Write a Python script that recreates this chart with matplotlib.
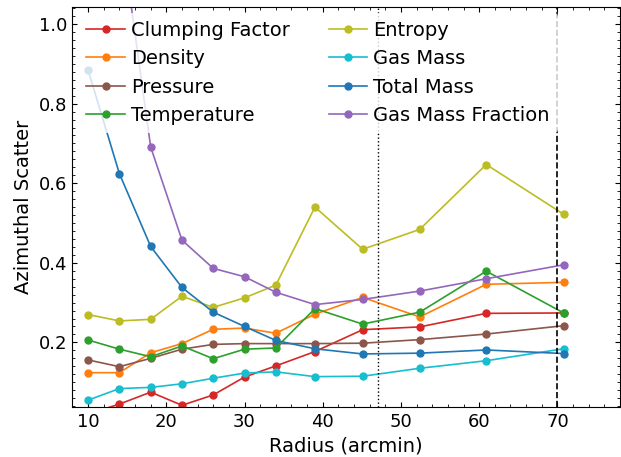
import matplotlib
matplotlib.use("Agg")
import matplotlib.pyplot as plt
from matplotlib.ticker import MultipleLocator

# Radial bins (arcmin)
radius = [10, 14, 18, 22, 26, 30, 34, 39, 45.1, 52.4, 60.9, 70.8]

clumping = [0.020, 0.045, 0.075, 0.042, 0.068, 0.113, 0.141, 0.177, 0.232, 0.239, 0.273, 0.274]
density = [0.124, 0.124, 0.174, 0.197, 0.233, 0.236, 0.223, 0.271, 0.313, 0.264, 0.346, 0.351]
pressure = [0.156, 0.139, 0.160, 0.183, 0.195, 0.197, 0.197, 0.197, 0.198, 0.207, 0.221, 0.242]
temperature = [0.206, 0.183, 0.164, 0.191, 0.159, 0.183, 0.186, 0.285, 0.246, 0.276, 0.379, 0.274]
entropy = [0.270, 0.254, 0.258, 0.316, 0.288, 0.312, 0.344, 0.540, 0.434, 0.484, 0.647, 0.522]
gas_mass = [0.055, 0.084, 0.087, 0.096, 0.110, 0.123, 0.126, 0.114, 0.115, 0.135, 0.154, 0.184]
total_mass = [0.884, 0.624, 0.441, 0.338, 0.276, 0.240, 0.205, 0.184, 0.171, 0.173, 0.181, 0.172]
gas_fraction = [1.60, 1.26, 0.691, 0.457, 0.386, 0.365, 0.326, 0.295, 0.308, 0.329, 0.360, 0.395]

series = [
    ("Clumping Factor", clumping, "tab:red"),
    ("Density", density, "tab:orange"),
    ("Pressure", pressure, "tab:brown"),
    ("Temperature", temperature, "tab:green"),
    ("Entropy", entropy, "tab:olive"),
    ("Gas Mass", gas_mass, "tab:cyan"),
    ("Total Mass", total_mass, "tab:blue"),
    ("Gas Mass Fraction", gas_fraction, "tab:purple"),
]

r500 = 47.0
r200 = 70.0

fig = plt.figure(figsize=(6.21, 4.57), dpi=100)
ax = fig.add_axes([0.1167, 0.1088, 0.8817, 0.8752])

for label, vals, color in series:
    ax.plot(radius, vals, "-o", color=color, label=label, lw=1.2, ms=5)

ax.axvline(r500, color="black", ls=":", lw=1.0)
ax.axvline(r200, color="black", ls="--", lw=1.2)

ax.set_xlim(8, 78)
ax.set_ylim(0.037, 1.042)
ax.xaxis.set_major_locator(MultipleLocator(10))
ax.xaxis.set_minor_locator(MultipleLocator(2))
ax.yaxis.set_major_locator(MultipleLocator(0.2))
ax.yaxis.set_minor_locator(MultipleLocator(0.02))
ax.tick_params(which="both", direction="in", top=True, right=True, labelsize=13)
ax.tick_params(which="major", length=3.5, pad=4)
ax.tick_params(which="minor", length=2)

ax.set_xlabel("Radius (arcmin)", fontsize=14)
ax.set_ylabel("Azimuthal Scatter", fontsize=14)

leg = ax.legend(ncol=2, loc="upper left", fontsize=14, framealpha=0.8,
                borderpad=0.4, borderaxespad=0.3, handletextpad=0.3,
                columnspacing=2.0, labelspacing=0.48)
leg.get_frame().set_edgecolor("none")

fig.savefig("out.png", dpi=100)
